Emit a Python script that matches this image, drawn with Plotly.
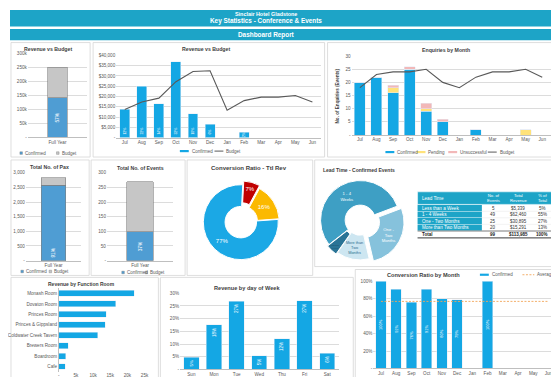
import plotly.graph_objects as go

# ---------------- data ----------------
months = ["Jul", "Aug", "Sep", "Oct", "Nov", "Dec", "Jan", "Feb", "Mar", "Apr", "May", "Jun"]

rev_confirmed = [13700, 25000, 16500, 36800, 11500, 6400, None, 2700, None, None, None, None]
rev_budget = [13700, 17300, 19200, 27200, 32200, 32500, 13300, 18000, 19700, 19700, 20500, 17300]
rev_bar_labels = ["12%", "22%", "14%", "32%", "10%", "6%", "", "2%", "", "", "", ""]
rev_ticks = [0, 5000, 10000, 15000, 20000, 25000, 30000, 35000, 40000]

enq_confirmed = [20, 22, 16, 25, 9, 5, 0, 2, 0, 0, 0, 0]
enq_pending = [0, 0, 2, 0, 1, 0, 0, 0, 0, 0, 2, 0]
enq_unsuccessful = [0, 0, 1, 1, 2, 1, 0, 0, 0, 0, 0, 0]
enq_budget = [18, 23, 24, 24, 25, 20, 18, 22, 24, 24, 25, 22]
enq_ticks = [0, 5, 10, 15, 20, 25, 30]

full_year = ["Full Year"]
fy_rev_confirmed = [142000]
fy_rev_budget = [250000]
fy_rev_label = ["57%"]
fy_rev_ticks = [0, 50000, 100000, 150000, 200000, 250000, 300000]

pax_confirmed = [2570]
pax_budget = [2830]
pax_label = ["91%"]
pax_ticks = [0, 500, 1000, 1500, 2000, 2500, 3000]

events_confirmed = [99]
events_budget = [270]
events_label = ["37%"]
events_ticks = [0, 50, 100, 150, 200, 250, 300]

conv_labels = ["Lost", "Pending", "Confirmed"]
conv_values = [7, 16, 77]

lead_labels = ["Less than a Week", "1 - 4 Weeks", "One - Two Months", "More than Two Months"]
lead_events = [5, 49, 25, 20]
lead_revenue = [5339, 62460, 30895, 15291]
lead_pct = ["5%", "55%", "27%", "13%"]

rooms = ["Monash Room", "Dovaton Room", "Princes Room", "Princes & Gippsland",
         "Coldwater Creek Tavern", "Brewers Room", "Boardroom", "Cafe"]
room_revenue = [22000, 16600, 13900, 13500, 11400, 2700, 2100, 1900]
room_ticks = [0, 5000, 10000, 15000, 20000, 25000]
room_ticklabels = ["-", "5k", "10k", "15k", "20k", "25k"]

days = ["Sun", "Mon", "Tue", "Wed", "Thu", "Fri", "Sat"]
day_share = [4.8, 17.5, 26.9, 5.4, 12.0, 27.0, 6.4]
day_ticks = [0, 5, 10, 15, 20, 25, 30]

conv_month = [100, 91, 76, 91, 80, 79, None, 100, None, None, None, None]
conv_average = 77
conv_ticks = [0, 20, 40, 60, 80, 100]

# ---------------- style ----------------
W, H = 559, 377
FONT = "Liberation Sans, Arial, sans-serif"
TEAL = "#1da4c7"
BLUE = "#14a7e4"
STEEL = "#4f9dd3"
GREYBAR = "#c6c6c6"
LINEGREY = "#595959"
TXT = "#404040"
GRID = "#dcdcdc"
AVG = "#f2a65a"


def xd(a, b):
    return [a / W, b / W]


def yd(top, bottom):
    return [1 - bottom / H, 1 - top / H]


def px(x):
    return x / W


def py(y):
    return 1 - y / H


def k_fmt(v):
    return "-" if v == 0 else f"{v // 1000}k"


def num_fmt(v):
    return "-" if v == 0 else f"{v:,}"


def dollar_fmt(v):
    return "-" if v == 0 else f"${v:,}"


def pct_fmt(v):
    return "-" if v == 0 else f"{v}%"


tickf = dict(size=4.6, color="#595959", family=FONT)

fig = go.Figure()

# ---- 1 small revenue vs budget ----
fig.add_bar(x=full_year, y=fy_rev_confirmed, marker=dict(color=STEEL, line=dict(color="#7f7f7f", width=0.6)),
            width=0.33, text=fy_rev_label, textposition="inside", textangle=-90, insidetextanchor="middle",
            textfont=dict(size=4.8, color="white", family=FONT), xaxis="x", yaxis="y", showlegend=False)
fig.add_bar(x=full_year, y=[b - c for b, c in zip(fy_rev_budget, fy_rev_confirmed)],
            marker=dict(color=GREYBAR, line=dict(color="#7f7f7f", width=0.6)), width=0.33,
            xaxis="x", yaxis="y", showlegend=False)

# ---- 2 revenue vs budget by month ----
fig.add_bar(x=months, y=rev_confirmed, marker=dict(color=BLUE), width=0.58, text=rev_bar_labels,
            textposition="inside", textangle=-90, insidetextanchor="start",
            textfont=dict(size=4.5, color="white", family=FONT), xaxis="x2", yaxis="y2", showlegend=False)
fig.add_scatter(x=months, y=rev_budget, mode="lines", line=dict(color=LINEGREY, width=1.1),
                xaxis="x2", yaxis="y2", showlegend=False)

# ---- 3 enquiries ----
for vals, col in [(enq_confirmed, BLUE), (enq_pending, "#ffe27a"), (enq_unsuccessful, "#f2b8b8")]:
    fig.add_bar(x=months, y=vals, marker=dict(color=col), width=0.66, xaxis="x3", yaxis="y3", showlegend=False)
fig.add_scatter(x=months, y=enq_budget, mode="lines", line=dict(color=LINEGREY, width=1.1),
                xaxis="x3", yaxis="y3", showlegend=False)

# ---- 4 pax ----
fig.add_bar(x=full_year, y=pax_confirmed, marker=dict(color=STEEL, line=dict(color="#7f7f7f", width=0.6)),
            width=0.45, text=pax_label, textposition="inside", textangle=-90, insidetextanchor="start",
            textfont=dict(size=4.8, color="white", family=FONT), xaxis="x4", yaxis="y4", showlegend=False)
fig.add_bar(x=full_year, y=[b - c for b, c in zip(pax_budget, pax_confirmed)],
            marker=dict(color=GREYBAR, line=dict(color="#7f7f7f", width=0.6)), width=0.45,
            xaxis="x4", yaxis="y4", showlegend=False)

# ---- 5 events ----
fig.add_bar(x=full_year, y=events_confirmed, marker=dict(color=STEEL, line=dict(color="#7f7f7f", width=0.6)),
            width=0.4, text=events_label, textposition="inside", textangle=-90, insidetextanchor="middle",
            textfont=dict(size=4.8, color="white", family=FONT), xaxis="x5", yaxis="y5", showlegend=False)
fig.add_bar(x=full_year, y=[b - c for b, c in zip(events_budget, events_confirmed)],
            marker=dict(color=GREYBAR, line=dict(color="#7f7f7f", width=0.6)), width=0.4,
            xaxis="x5", yaxis="y5", showlegend=False)

# ---- 6 function rooms ----
fig.add_bar(y=rooms, x=room_revenue, orientation="h", marker=dict(color=BLUE), width=0.57,
            xaxis="x6", yaxis="y6", showlegend=False)

# ---- 7 day of week ----
fig.add_bar(x=days, y=day_share, marker=dict(color=BLUE), width=0.68,
            text=[f"{round(v)}%" for v in day_share], textposition="inside", textangle=-90,
            insidetextanchor="end", textfont=dict(size=4.5, color="white", family=FONT),
            xaxis="x7", yaxis="y7", showlegend=False)

# ---- 8 conversion by month ----
fig.add_bar(x=months, y=conv_month, marker=dict(color=BLUE), width=0.69,
            text=["" if v is None else f"{v}%" for v in conv_month], textposition="inside", textangle=-90,
            insidetextanchor="middle", textfont=dict(size=4.5, color="white", family=FONT),
            xaxis="x8", yaxis="y8", showlegend=False)
fig.add_scatter(x=months, y=[conv_average] * len(months), mode="lines",
                line=dict(color=AVG, width=0.9, dash="2px,1.5px"), xaxis="x8", yaxis="y8", showlegend=False)

# ---- donut: conversion ratio ----
c1x, c1y, r1 = 233.3, 215, 41.8
fig.add_pie(labels=conv_labels, values=conv_values, hole=0.42, sort=False, direction="clockwise", rotation=3,
            marker=dict(colors=["#c00000", "#fbb900", "#1ba8e5"], line=dict(color="white", width=1)),
            pull=[0.1, 0.03, 0], textinfo="percent", textposition="inside", insidetextorientation="horizontal",
            textfont=dict(size=6, color="white", family=FONT),
            domain=dict(x=xd(c1x - r1, c1x + r1), y=yd(c1y - r1, c1y + r1)), showlegend=False)

# ---- donut: lead time ----
order = [1, 2, 3, 0]
lead_text = {"Less than a Week": "Less than<br>a Week", "1 - 4 Weeks": "1 - 4<br>Weeks",
             "One - Two Months": "One -<br>Two<br>Months", "More than Two Months": "More than<br>Two<br>Months"}
lead_cols = {"Less than a Week": "#2a7496", "1 - 4 Weeks": "#3e9fc4", "One - Two Months": "#86c2dc",
             "More than Two Months": "#cde6f1"}
lead_txtcol = {"Less than a Week": "#1d4f66", "1 - 4 Weeks": "white", "One - Two Months": "white",
               "More than Two Months": "#2a6f8f"}
c2x, c2y, r2 = 354, 213, 45
fig.add_pie(labels=[lead_labels[i] for i in order], values=[lead_revenue[i] for i in order], hole=0.38,
            sort=False, direction="clockwise", rotation=-128,
            text=[lead_text[lead_labels[i]] for i in order], texttemplate="%{text}",
            marker=dict(colors=[lead_cols[lead_labels[i]] for i in order], line=dict(color="white", width=1)),
            pull=[0, 0.12, 0, 0.05], textposition="inside", insidetextorientation="horizontal",
            textfont=dict(size=4.2, color=[lead_txtcol[lead_labels[i]] for i in order], family=FONT),
            domain=dict(x=xd(c2x - r2, c2x + r2), y=yd(c2y - r2, c2y + r2)), showlegend=False)


# ---------------- axes ----------------
def cat_x(domain, n, **kw):
    d = dict(domain=domain, type="category", range=[-0.5, n - 0.5], showgrid=False,
             zeroline=False, showline=True, linecolor="#bfbfbf", linewidth=0.6, tickfont=tickf, ticks="",
             fixedrange=True)
    d.update(kw)
    return d


def val_y(domain, rng, ticks, labels, **kw):
    d = dict(domain=domain, range=rng, tickvals=ticks, ticktext=labels, showgrid=True, gridcolor=GRID,
             gridwidth=0.6, zeroline=False, tickfont=tickf, ticks="", fixedrange=True)
    d.update(kw)
    return d


fig.update_layout(
    xaxis=cat_x(xd(18, 78), 1, anchor="y"),
    yaxis=val_y(yd(44, 129), [0, 300000], fy_rev_ticks, [k_fmt(v) for v in fy_rev_ticks], anchor="x"),
    xaxis2=cat_x(xd(107.4, 314.3), 12, anchor="y2"),
    yaxis2=val_y(yd(46, 129.3), [0, 40000], rev_ticks, [dollar_fmt(v) for v in rev_ticks], anchor="x2"),
    xaxis3=cat_x(xd(345.3, 546.4), 12, anchor="y3"),
    yaxis3=val_y(yd(46.7, 126.7), [0, 30], enq_ticks, [num_fmt(v) for v in enq_ticks], anchor="x3"),
    xaxis4=cat_x(xd(16, 72), 1, anchor="y4"),
    yaxis4=val_y(yd(165, 254), [0, 3000], pax_ticks, [num_fmt(v) for v in pax_ticks], anchor="x4"),
    xaxis5=cat_x(xd(98, 165), 1, anchor="y5"),
    yaxis5=val_y(yd(165, 254), [0, 300], events_ticks, [num_fmt(v) for v in events_ticks], anchor="x5"),
    xaxis6=dict(domain=xd(49.3, 136), range=[0, 25000], tickvals=room_ticks, ticktext=room_ticklabels,
                showgrid=False, zeroline=False, tickfont=tickf, ticks="", fixedrange=True, anchor="y6"),
    yaxis6=dict(domain=yd(282, 366.6), type="category", range=[len(rooms) - 0.5, -0.5], showline=True,
                linecolor="#bfbfbf", linewidth=0.6, tickfont=tickf, ticks="", fixedrange=True, anchor="x6",
                showgrid=False),
    xaxis7=cat_x(xd(171.9, 332.1), 7, anchor="y7"),
    yaxis7=val_y(yd(287, 364.3), [0, 30], day_ticks, [pct_fmt(v) for v in day_ticks], anchor="x7"),
    xaxis8=cat_x(xd(367.3, 552), 12, anchor="y8"),
    yaxis8=val_y(yd(275, 363.3), [0, 100], conv_ticks, [pct_fmt(v) for v in conv_ticks], anchor="x8"),
)

shapes = []
annotations = []


def rect(x0, y0, x1, y1, fill=None, line=None, lw=0.8, layer="below"):
    shapes.append(dict(type="rect", xref="paper", yref="paper", x0=px(x0), x1=px(x1), y0=py(y1), y1=py(y0),
                       fillcolor=fill if fill else "rgba(0,0,0,0)",
                       line=dict(color=line if line else "rgba(0,0,0,0)", width=lw if line else 0), layer=layer))


def hline(x0, x1, y, color, lw=0.8, dash="solid", layer="above"):
    shapes.append(dict(type="line", xref="paper", yref="paper", x0=px(x0), x1=px(x1), y0=py(y), y1=py(y),
                       line=dict(color=color, width=lw, dash=dash), layer=layer))


def text(x, y, s, size=5, color=TXT, bold=False, xanchor="center", angle=0):
    annotations.append(dict(x=px(x), y=py(y), xref="paper", yref="paper", text=f"<b>{s}</b>" if bold else s,
                            showarrow=False, xanchor=xanchor, yanchor="middle", textangle=angle,
                            font=dict(size=size, color=color, family=FONT)))


# header
rect(0, 0, 559, 16.7, fill=TEAL)
rect(0, 19.3, 559, 30.6, fill=TEAL)
text(259, 3.6, "Sinclair Hotel Gladstone", size=5.4, color="white", bold=True)
text(259, 11.4, "Key Statistics - Conference & Events", size=6.4, color="white", bold=True)
text(259, 25, "Dashboard Report", size=6.4, color="white", bold=True)

# panels
for b in [(1, 33, 81, 149), (84, 33, 318, 149), (321, 33, 557, 149), (1, 152, 80, 269), (82, 152, 177, 269),
          (179, 152, 306, 269), (308, 152, 557, 260), (1, 271, 150, 376), (152, 271, 347, 376),
          (349, 263, 557, 376)]:
    rect(*b, line="#d6d6d6", lw=0.8)

# titles
text(38, 40, "Revenue vs Budget", size=5.2, bold=True)
text(198, 40, "Revenue vs Budget", size=5.2, bold=True)
text(440.7, 40.7, "Enquiries by Month", size=5.2, bold=True)
text(40, 159, "Total No. of Pax", size=5.2, bold=True)
text(132, 160, "Total No. of Events", size=5.2, bold=True)
text(241.7, 160, "Conversion Ratio - Ttl Rev", size=6, bold=True)
text(314, 161.7, "Lead Time - Confirmed Events", size=5, bold=True, xanchor="left")
text(72, 278, "Revenue by Function Room", size=5, bold=True)
text(240, 281.3, "Revenue by day of Week", size=5.6, bold=True)
text(418.3, 269, "Conversion Ratio by Month", size=5.6, bold=True)
text(331.5, 86.7, "No. of Enquiries (Events)", size=4.6, bold=True, angle=-90)


# legends
def legend(y, items):
    for x0, name, color, kind in items:
        if kind == "box":
            rect(x0, y - 1.3, x0 + 2.6, y + 1.3, fill=color, line="#7f7f7f", lw=0.4, layer="above")
            tx = x0 + 3.2
        elif kind == "bar":
            rect(x0, y - 1.1, x0 + 9, y + 1.1, fill=color, layer="above")
            tx = x0 + 10
        elif kind == "line":
            hline(x0, x0 + 9, y, color, lw=1.0)
            tx = x0 + 10
        else:
            hline(x0, x0 + 12, y, color, lw=0.9, dash="2px,1.5px")
            tx = x0 + 13
        text(tx, y, name, size=4.5, color="#595959", xanchor="left")


legend(145, [(10, "Confirmed", STEEL, "box"), (47, "Budget", GREYBAR, "box")])
legend(143, [(171.7, "Confirmed", BLUE, "bar"), (206.7, "Budget", LINEGREY, "line")])
legend(144, [(379.5, "Confirmed", BLUE, "bar"), (411, "Pending", "#ffe27a", "bar"),
             (443, "Unsuccessful", "#f2b8b8", "bar"), (483, "Budget", LINEGREY, "line")])
legend(265, [(11, "Confirmed", STEEL, "box"), (39.5, "Budget", GREYBAR, "box")])
legend(266, [(113, "Confirmed", STEEL, "box"), (136.5, "Budget", GREYBAR, "box")])
legend(268.3, [(475, "Confirmed", BLUE, "bar"), (518, "Average", AVG, "dash")])

# lead-time table
col_x = [412, 477, 500, 528, 548]
head_top, head_bot = 184.3, 197
row_h = 6.6
rect(col_x[0], head_top, col_x[-1], head_bot, fill=TEAL, line="white", lw=0.5)
headers = ["Lead Time", "No. of<br>Events", "Total<br>Revenue", "% of<br>Total"]
for i, hd in enumerate(headers):
    if i == 0:
        text(col_x[0] + 2, (head_top + head_bot) / 2, hd, size=4.6, color="white", xanchor="left")
    else:
        text((col_x[i] + col_x[i + 1]) / 2, (head_top + head_bot) / 2, hd, size=4.2, color="white")
for r, name in enumerate(lead_labels):
    y0 = head_bot + 0.6 + r * row_h
    rect(col_x[0], y0, col_x[1], y0 + row_h - 0.5, fill=TEAL)
    hline(col_x[1], col_x[-1], y0 + row_h - 0.2, "#e4e4e4", lw=0.5, layer="below")
    ym = y0 + row_h / 2 - 0.2
    text(col_x[0] + 2, ym, name, size=4.6, color="white", xanchor="left")
    vals = [str(lead_events[r]), dollar_fmt(lead_revenue[r]), lead_pct[r]]
    for c, v in enumerate(vals):
        text((col_x[c + 1] + col_x[c + 2]) / 2, ym, v, size=4.5, color="#333333")
tot_top = head_bot + 0.6 + len(lead_labels) * row_h
hline(col_x[0], col_x[-1], tot_top, "#333333", lw=0.6)
hline(col_x[0], col_x[-1], tot_top + row_h, "#333333", lw=0.6)
hline(col_x[0], col_x[-1], tot_top + row_h + 0.9, "#333333", lw=0.4)
ym = tot_top + row_h / 2
text(col_x[0] + 2, ym, "Total", size=4.6, color="#222222", bold=True, xanchor="left")
tot_vals = [str(sum(lead_events)), dollar_fmt(sum(lead_revenue)), "100%"]
for c, v in enumerate(tot_vals):
    text((col_x[c + 1] + col_x[c + 2]) / 2, ym, v, size=4.5, color="#222222", bold=True)

fig.update_layout(
    width=W, height=H, margin=dict(l=0, r=0, t=0, b=0), paper_bgcolor="white", plot_bgcolor="rgba(0,0,0,0)",
    barmode="stack", font=dict(family=FONT, size=5, color=TXT),
    shapes=shapes, annotations=annotations, showlegend=False, hovermode=False,
)

fig.write_html("out.html")
